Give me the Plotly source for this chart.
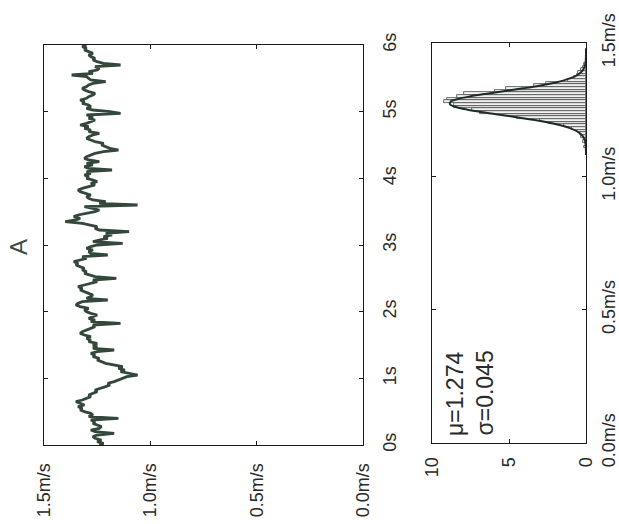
import plotly.graph_objects as go

# ---------------- data ----------------
# speed trace (m/s), sampled every 0.025 s from 0 s to 6 s
time_s = [round(i * 0.025, 3) for i in range(241)]
speed = [
    1.24, 1.22, 1.25, 1.23, 1.26, 1.27, 1.25, 1.17, 1.26, 1.28,
    1.24, 1.23, 1.25, 1.27, 1.26, 1.28, 1.15, 1.29, 1.27, 1.28,
    1.31, 1.33, 1.32, 1.34, 1.31, 1.33, 1.35, 1.32, 1.30, 1.28,
    1.29, 1.27, 1.25, 1.26, 1.23, 1.21, 1.19, 1.20, 1.17, 1.15,
    1.13, 1.11, 1.06, 1.10, 1.14, 1.12, 1.15, 1.13, 1.18, 1.21,
    1.23, 1.25, 1.24, 1.27, 1.26, 1.28, 1.25, 1.17, 1.27, 1.25,
    1.27, 1.25, 1.29, 1.28, 1.30, 1.28, 1.31, 1.33, 1.32, 1.30,
    1.28, 1.26, 1.27, 1.14, 1.28, 1.26, 1.29, 1.27, 1.25, 1.28,
    1.30, 1.31, 1.29, 1.33, 1.35, 1.34, 1.32, 1.20, 1.30, 1.28,
    1.27, 1.29, 1.31, 1.33, 1.32, 1.34, 1.31, 1.28, 1.25, 1.27,
    1.16, 1.26, 1.29, 1.31, 1.30, 1.32, 1.31, 1.33, 1.35, 1.34,
    1.36, 1.33, 1.30, 1.32, 1.20, 1.28, 1.29, 1.27, 1.30, 1.28,
    1.25, 1.13, 1.27, 1.24, 1.20, 1.22, 1.18, 1.21, 1.10, 1.24,
    1.26, 1.25, 1.28, 1.32, 1.40, 1.35, 1.33, 1.36, 1.34, 1.30,
    1.26, 1.24, 1.27, 1.31, 1.06, 1.24, 1.21, 1.27, 1.29, 1.30,
    1.28, 1.31, 1.33, 1.34, 1.32, 1.29, 1.26, 1.28, 1.25, 1.27,
    1.30, 1.29, 1.31, 1.28, 1.30, 1.18, 1.29, 1.31, 1.27, 1.30,
    1.24, 1.29, 1.31, 1.30, 1.28, 1.26, 1.22, 1.15, 1.19, 1.21,
    1.23, 1.22, 1.26, 1.28, 1.30, 1.29, 1.27, 1.24, 1.29, 1.28,
    1.31, 1.29, 1.33, 1.30, 1.28, 1.26, 1.29, 1.27, 1.30, 1.14,
    1.19, 1.27, 1.30, 1.28, 1.29, 1.32, 1.31, 1.33, 1.30, 1.29,
    1.27, 1.26, 1.29, 1.31, 1.32, 1.30, 1.29, 1.27, 1.21, 1.28,
    1.29, 1.30, 1.37, 1.27, 1.29, 1.25, 1.24, 1.26, 1.14, 1.22,
    1.25, 1.27, 1.26, 1.28, 1.29, 1.27, 1.29, 1.31, 1.30, 1.32,
    1.30,
]

# histogram of speed (density), bin centres in m/s
bin_centres = [
    1.10, 1.11, 1.12, 1.13, 1.14, 1.15, 1.16, 1.17, 1.18, 1.19,
    1.20, 1.21, 1.22, 1.23, 1.24, 1.25, 1.26, 1.27, 1.28, 1.29,
    1.30, 1.31, 1.32, 1.33, 1.34, 1.35, 1.36, 1.37, 1.38, 1.39,
    1.40, 1.41, 1.42,
]
density = [
    0.0, 0.1, 0.0, 0.2, 0.1, 0.3, 0.4, 0.6, 0.9, 1.4,
    2.4, 3.0, 4.5, 5.3, 6.9, 7.4, 8.6, 8.6, 9.2, 9.0,
    8.4, 7.9, 5.9, 5.2, 3.4, 2.6, 1.2, 0.8, 0.6, 0.5,
    0.3, 0.2, 0.1,
]

# fitted normal curve (mu=1.274, sigma=0.045)
fit_speed = [
    1.08, 1.10, 1.12, 1.14, 1.16, 1.18, 1.20, 1.21, 1.22, 1.23,
    1.24, 1.25, 1.26, 1.27, 1.28, 1.29, 1.30, 1.31, 1.32, 1.33,
    1.34, 1.35, 1.36, 1.38, 1.40, 1.42, 1.44, 1.46, 1.48,
]
fit_density = [
    0.0, 0.005, 0.03, 0.10, 0.36, 1.00, 2.29, 3.23, 4.31, 5.50,
    6.66, 7.69, 8.45, 8.83, 8.79, 8.32, 7.50, 6.44, 5.26, 4.09,
    3.02, 2.13, 1.43, 0.55, 0.18, 0.05, 0.01, 0.0, 0.0,
]

speed_ticks = [1.5, 1.0, 0.5, 0.0]
speed_labels = ["1.5m/s", "1.0m/s", "0.5m/s", "0.0m/s"]
time_ticks = [0, 1, 2, 3, 4, 5, 6]
time_labels = ["0s", "1s", "2s", "3s", "4s", "5s", "6s"]
count_ticks = [10, 5, 0]
count_labels = ["10", "5", "0"]
hist_speed_ticks = [0.0, 0.5, 1.0, 1.5]
hist_speed_labels = ["0.0m/s", "0.5m/s", "1.0m/s", "1.5m/s"]

mu_text = "\u03bc=1.274"
sigma_text = "\u03c3=0.045"
panel_title = "A"

# ---------------- figure ----------------
W, H = 619, 524
FONT = "Liberation Sans, Arial, sans-serif"
TXT = "#2a2a2a"
TRACE = "#34473b"

def px_x(a, b):
    return [a / W, b / W]

def px_y(top, bottom):
    return [(H - bottom) / H, (H - top) / H]

fig = go.Figure()

fig.add_trace(go.Scatter(
    x=speed, y=time_s, mode="lines", line=dict(color=TRACE, width=2.8),
    xaxis="x", yaxis="y", showlegend=False, hoverinfo="skip",
))

fig.add_trace(go.Bar(
    x=density, y=bin_centres, orientation="h", width=0.01,
    marker=dict(color="#f2f2f2", line=dict(color="#4a4a4a", width=0.8)),
    xaxis="x2", yaxis="y2", showlegend=False, hoverinfo="skip",
))

fig.add_trace(go.Scatter(
    x=fit_density, y=fit_speed, mode="lines", line=dict(color="#1e2d24", width=2, shape="spline"),
    xaxis="x2", yaxis="y2", showlegend=False, hoverinfo="skip",
))

axis_common = dict(
    showline=True, linecolor="#1a1a1a", linewidth=1.2, mirror="ticks",
    ticks="inside", ticklen=4, tickcolor="#1a1a1a", tickwidth=1,
    showgrid=False, zeroline=False, tickangle=-90, automargin=False,
    tickfont=dict(family=FONT, size=18, color=TXT),
)

fig.update_layout(
    width=W, height=H,
    margin=dict(l=0, r=0, t=0, b=0),
    paper_bgcolor="white", plot_bgcolor="white",
    bargap=0,
    xaxis=dict(domain=px_x(44, 363), range=[1.5, 0], anchor="y",
               tickvals=speed_ticks, ticktext=speed_labels,
               ticklabelstandoff=10, **axis_common),
    yaxis=dict(domain=px_y(45, 445), range=[0, 6], anchor="x", side="right",
               tickvals=time_ticks, ticktext=time_labels,
               ticklabelstandoff=10, **axis_common),
    xaxis2=dict(domain=px_x(432, 586), range=[10, 0], anchor="y2",
                tickvals=count_ticks, ticktext=count_labels,
                ticklabelstandoff=6, **axis_common),
    yaxis2=dict(domain=px_y(43, 443), range=[0, 1.5], anchor="x2", side="right",
                tickvals=hist_speed_ticks, ticktext=hist_speed_labels,
                ticklabelstandoff=6, **axis_common),
    annotations=[
        dict(text=mu_text, x=455 / W, y=(H - 438) / H, xref="paper", yref="paper",
             xanchor="center", yanchor="bottom", textangle=-90, showarrow=False,
             font=dict(family=FONT, size=23, color=TXT)),
        dict(text=sigma_text, x=484 / W, y=(H - 438) / H, xref="paper", yref="paper",
             xanchor="center", yanchor="bottom", textangle=-90, showarrow=False,
             font=dict(family=FONT, size=23, color=TXT)),
        dict(text=panel_title, x=18 / W, y=(H - 247) / H, xref="paper", yref="paper",
             xanchor="center", yanchor="middle", textangle=-90, showarrow=False,
             font=dict(family=FONT, size=24, color="#3a4f42")),
    ],
)

fig.write_html("out.html")
